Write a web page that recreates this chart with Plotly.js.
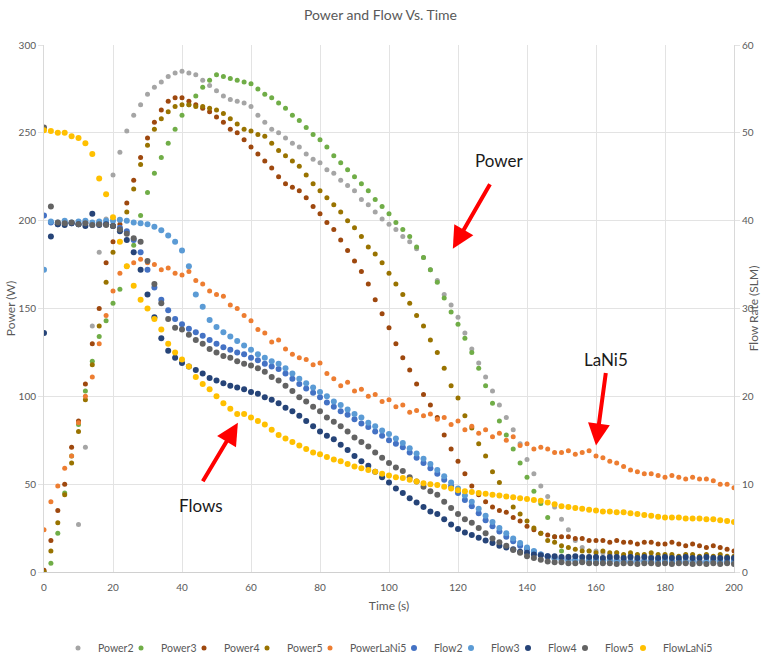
<!DOCTYPE html>
<html>
<head>
<meta charset="utf-8">
<script src="https://cdn.plot.ly/plotly-3.0.1.min.js"></script>
<style>html,body{margin:0;padding:0;background:#fff;}#chart{width:761px;height:660px;}</style>
</head>
<body>
<div id="chart"></div>
<script>
// Time (s) sampling grid
const time = [0,2,4,6,8,10,12,14,16,18,20,22,24,26,28,30,32,34,36,38,40,42,44,46,48,50,52,54,56,58,60,62,64,66,68,70,72,74,76,78,80,82,84,86,88,90,92,94,96,98,100,102,104,106,108,110,112,114,116,118,120,122,124,126,128,130,132,134,136,138,140,142,144,146,148,150,152,154,156,158,160,162,164,166,168,170,172,174,176,178,180,182,184,186,188,190,192,194,196,198,200];

// Power series (W), left axis
const power2 = [0,null,null,null,null,27,71,140,182,201,
  226,239,251,260,266,272,276,279,282,284,
  285,284,283,280,277,274,271,269,268,267,
  265,260,256,252,250,247,244,242,238,235,
  233,229,227,223,220,217,212,209,205,201,
  198,195,191,188,184,179,172,166,158,152,
  145,136,127,119,111,103,95,88,81,73,
  64,56,49,43,37,30,24,18,14,12,
  12,11,10,11,9,10,9,8,9,8,
  8,9,8,7,8,7,8,7,7,8,
  7];
const power3 = [0,5,22,45,66,84,103,120,134,143,
  153,161,174,186,203,216,227,236,244,252,
  260,266,271,276,280,283,282,281,280,279,
  278,275,272,270,267,264,260,257,253,249,
  246,242,237,233,229,225,221,217,212,208,
  204,199,195,191,185,179,172,165,156,148,
  141,133,125,116,106,96,86,78,70,62,
  54,46,39,31,20,12,9,8,7,8,
  7,8,7,7,8,7,7,6,7,7,
  7,6,7,7,6,7,7,6,7,6,
  7];
const power4 = [1,18,35,50,71,86,107,130,150,176,
  188,198,210,223,236,247,256,263,268,270,
  270,268,266,264,262,259,256,252,250,246,
  242,238,234,230,225,221,219,217,213,208,
  204,199,195,189,183,177,171,164,155,147,
  139,130,122,115,107,101,95,88,78,70,
  63,56,49,44,40,37,35,34,31,29,
  26,24,22,21,20,20,20,19,19,18,
  18,18,17,18,17,17,16,17,17,16,
  16,17,16,15,16,15,14,15,14,13,
  12];
const power5 = [0,12,28,44,62,80,98,118,140,165,
  182,195,205,218,232,243,252,258,262,265,
  266,266,265,265,264,263,261,258,255,252,
  251,249,248,244,240,237,234,231,226,221,
  217,213,209,205,200,196,191,185,181,176,
  170,164,158,153,146,140,132,125,116,106,
  99,89,82,73,66,57,51,43,37,33,
  29,25,22,18,17,15,14,13,12,12,
  11,12,11,11,10,11,10,10,11,10,
  10,10,9,10,10,9,10,9,10,9,
  9];
const powerLaNi5 = [24,40,49,59,66,85,100,111,130,146,
  160,170,174,176,178,176,175,172,173,170,
  169,171,166,164,160,158,157,152,150,146,
  143,138,136,131,132,127,124,122,121,118,
  119,113,110,106,108,103,104,100,101,97,
  98,94,95,91,92,89,90,87,88,84,
  86,81,83,79,81,77,79,75,77,72,
  73,70,71,70,68,68,69,67,68,69,
  66,65,63,62,60,58,57,56,56,55,
  54,55,54,53,54,53,53,52,50,50,
  48];

// Flow series (SLM), right axis
const flow2 = [40.6,39.8,39.6,39.8,39.7,39.6,39.8,39.5,39.7,39.6,
  39.4,39.2,38.8,37.8,36.4,34.4,32.4,31.0,29.8,28.8,
  28.2,27.7,27.3,26.9,26.4,26.0,25.6,25.3,25.0,24.8,
  24.4,24.1,23.7,23.4,23.1,22.6,22.0,21.4,20.9,20.4,
  19.9,19.3,18.8,18.3,17.9,17.4,16.9,16.5,16.0,15.5,
  15.0,14.6,14.2,13.6,13.0,12.4,11.8,11.2,10.5,9.8,
  9.0,8.2,7.5,6.7,5.9,5.2,4.6,4.0,3.5,3.0,
  2.6,2.3,2.0,1.8,1.6,1.5,1.4,1.4,1.3,1.4,
  1.3,1.3,1.4,1.3,1.3,1.2,1.3,1.3,1.2,1.3,
  1.3,1.2,1.3,1.2,1.3,1.2,1.2,1.3,1.2,1.2,
  1.2];
const flow3 = [34.4,39.9,39.8,40.0,39.8,39.9,40.0,39.8,39.9,40.0,
  40.0,40.1,40.0,39.8,39.7,39.6,39.3,38.9,38.3,37.6,
  36.6,34.8,31.6,30.2,28.7,27.9,27.3,26.8,26.3,25.8,
  25.3,24.8,24.4,24.0,23.7,23.2,22.6,22.0,21.5,21.0,
  20.5,20.0,19.4,19.0,18.5,18.0,17.6,17.0,16.6,16.1,
  15.7,15.2,14.7,14.1,13.5,12.9,12.3,11.6,10.9,10.2,
  9.5,8.7,8.0,7.2,6.4,5.7,5.0,4.4,3.8,3.3,
  2.8,2.4,2.0,1.7,1.5,1.4,1.3,1.3,1.2,1.3,
  1.2,1.2,1.3,1.2,1.2,1.1,1.2,1.2,1.1,1.2,
  1.2,1.1,1.2,1.1,1.2,1.1,1.1,1.2,1.1,1.1,
  1.1];
const flow4 = [27.2,38.2,39.6,39.5,39.7,39.6,39.4,40.8,39.5,39.6,
  39.4,38.8,37.8,36.4,34.4,31.6,29.0,26.6,25.2,24.4,
  23.8,23.4,23.0,22.6,22.1,21.8,21.5,21.2,21.0,20.8,
  20.5,20.3,19.9,19.6,19.2,18.7,18.3,17.8,17.2,16.6,
  16.0,15.5,15.1,14.5,13.9,13.2,12.6,12.1,11.4,10.8,
  10.2,9.5,9.0,8.4,7.9,7.4,6.9,6.6,6.0,5.4,
  4.9,4.5,4.2,3.9,3.6,3.3,3.0,2.8,2.6,2.3,
  2.2,2.0,1.9,1.8,1.8,1.7,1.7,1.8,1.7,1.7,
  1.7,1.6,1.7,1.7,1.6,1.7,1.6,1.7,1.6,1.6,
  1.7,1.6,1.6,1.7,1.6,1.6,1.7,1.6,1.6,1.6,
  1.6];
const flow5 = [50.6,41.6,39.8,39.7,39.8,39.6,39.7,39.5,39.6,39.5,
  39.4,39.0,38.5,38.0,37.6,35.4,32.8,30.6,28.8,27.8,
  27.6,27.0,26.4,26.0,25.4,25.0,24.6,24.4,24.0,23.7,
  23.5,23.2,22.8,22.2,21.8,21.2,20.6,19.9,19.4,18.8,
  18.3,17.6,17.1,16.6,16.0,15.3,14.8,14.3,13.6,13.0,
  12.4,11.9,11.5,10.8,10.3,9.7,9.2,8.8,8.0,7.3,
  6.6,6.0,5.6,5.0,4.4,3.8,3.4,3.0,2.5,2.2,
  1.8,1.6,1.4,1.2,1.1,1.1,1.0,1.0,1.1,1.0,
  1.0,1.0,1.0,0.9,1.0,1.0,0.9,1.0,1.0,0.9,
  1.0,0.9,1.0,1.0,0.9,1.0,0.9,1.0,0.9,1.0,
  0.9];
const flowLaNi5 = [50.3,50.2,50.0,50.0,49.6,49.4,48.8,47.6,44.8,43.0,
  40.4,37.6,34.8,32.6,31.0,30.0,28.8,27.6,26.0,25.0,
  24.2,23.4,22.2,21.4,20.8,20.0,19.2,18.6,18.0,18.0,
  17.6,17.2,16.8,16.2,15.6,15.2,14.8,14.4,14.0,13.6,
  13.4,13.1,12.8,12.6,12.3,12.0,11.8,11.6,11.4,11.2,
  11.0,10.8,10.7,10.5,10.3,10.1,10.0,9.9,9.7,9.5,
  9.3,9.2,9.1,9.0,8.9,8.8,8.7,8.6,8.5,8.4,
  8.3,8.2,8.1,7.9,7.7,7.5,7.4,7.3,7.2,7.1,
  7.0,6.9,6.9,6.8,6.8,6.7,6.6,6.5,6.4,6.3,
  6.2,6.2,6.2,6.1,6.1,6.1,6.0,6.0,5.9,5.8,
  5.7];

const seriesNames = ['Power2','Power3','Power4','Power5','PowerLaNi5','Flow2','Flow3','Flow4','Flow5','FlowLaNi5'];
const seriesData = [power2,power3,power4,power5,powerLaNi5,flow2,flow3,flow4,flow5,flowLaNi5];
const seriesColors = ['#A5A5A5','#70AD47','#9E480E','#997300','#ED7D31','#4472C4','#5B9BD5','#264478','#636363','#FFC000'];

// layout: pixel x of each legend marker (one single-entry legend per series)
const legendMarkerPx = [78,141,204,267,330,414,471,528,585,643];

const FONT = 'Lato, "Open Sans", sans-serif';
const GREY = '#595959';
const PLOT_L = 44, PLOT_R = 27, PLOT_W = 761 - 44 - 27;

const traces = seriesNames.map((name, i) => {
  const isFlow = i >= 5;
  return {
    type: 'scatter',
    mode: 'markers',
    name: name,
    x: time,
    y: seriesData[i],
    yaxis: isFlow ? 'y2' : 'y',
    legend: i === 0 ? 'legend' : 'legend' + (i + 1),
    marker: {color: seriesColors[i], size: isFlow ? 6 : 5}
  };
});

const arrowStyle = {showarrow: true, arrowcolor: '#FF0000', arrowwidth: 4, arrowhead: 2, arrowsize: 1.1, text: '', axref: 'pixel', ayref: 'pixel', xref: 'x', yref: 'y'};
const labelFont = {family: FONT, size: 17, color: '#1a1a1a'};

const layout = {
  width: 761, height: 660,
  paper_bgcolor: '#ffffff', plot_bgcolor: '#ffffff',
  margin: {l: PLOT_L, r: PLOT_R, t: 45, b: 88},
  title: {text: 'Power and Flow Vs. Time', font: {family: FONT, size: 14, color: GREY}, x: 0.5, xanchor: 'center', y: 0.977, yanchor: 'middle', yref: 'container'},
  showlegend: true,
  xaxis: {
    range: [0, 200], dtick: 20, tick0: 0,
    showgrid: true, gridcolor: '#e3e3e3', zeroline: false,
    showline: true, linecolor: '#d0d0d0', linewidth: 1,
    ticks: 'outside', ticklen: 6, tickcolor: 'rgba(0,0,0,0)',
    tickfont: {family: FONT, size: 10, color: GREY},
    title: {text: 'Time (s)', font: {family: FONT, size: 12, color: GREY}, standoff: 9}
  },
  yaxis: {
    range: [0, 300], dtick: 50, tick0: 0,
    showgrid: true, gridcolor: '#e3e3e3', zeroline: false,
    showline: true, linecolor: '#d9d9d9',
    ticks: 'outside', ticklen: 5, tickcolor: '#e3e3e3',
    tickfont: {family: FONT, size: 10, color: GREY},
    title: {text: 'Power (W)', font: {family: FONT, size: 12, color: GREY}, standoff: 0}
  },
  yaxis2: {
    range: [0, 60], dtick: 10, tick0: 0, overlaying: 'y', side: 'right',
    showgrid: false, zeroline: false,
    showline: true, linecolor: '#d9d9d9',
    ticks: 'outside', ticklen: 5, tickcolor: '#e3e3e3',
    tickfont: {family: FONT, size: 10, color: GREY},
    title: {text: 'Flow Rate (SLM)', font: {family: FONT, size: 12, color: GREY}, standoff: 8}
  },
  annotations: [
    {text: 'Power', x: 132, y: 234, xref: 'x', yref: 'y', showarrow: false, font: labelFont},
    Object.assign({}, arrowStyle, {x: 118.5, y: 184, ax: 38, ay: -66}),
    {text: 'LaNi5', x: 163, y: 121, xref: 'x', yref: 'y', showarrow: false, font: labelFont},
    Object.assign({}, arrowStyle, {x: 160, y: 72, ax: 10, ay: -74}),
    {text: 'Flows', x: 45.5, y: 38, xref: 'x', yref: 'y', showarrow: false, font: labelFont},
    Object.assign({}, arrowStyle, {x: 56.2, y: 85, ax: -36, ay: 60})
  ]
};

legendMarkerPx.forEach((px, i) => {
  const key = i === 0 ? 'legend' : 'legend' + (i + 1);
  layout[key] = {
    orientation: 'h', xanchor: 'left', yanchor: 'middle',
    xref: 'paper', yref: 'container',
    x: (px - 20 - PLOT_L) / PLOT_W, y: 12 / 660,
    bgcolor: 'rgba(0,0,0,0)', borderwidth: 0,
    font: {family: FONT, size: 10.5, color: GREY}
  };
});

Plotly.newPlot('chart', traces, layout, {displayModeBar: false, staticPlot: true});
</script>
</body>
</html>
